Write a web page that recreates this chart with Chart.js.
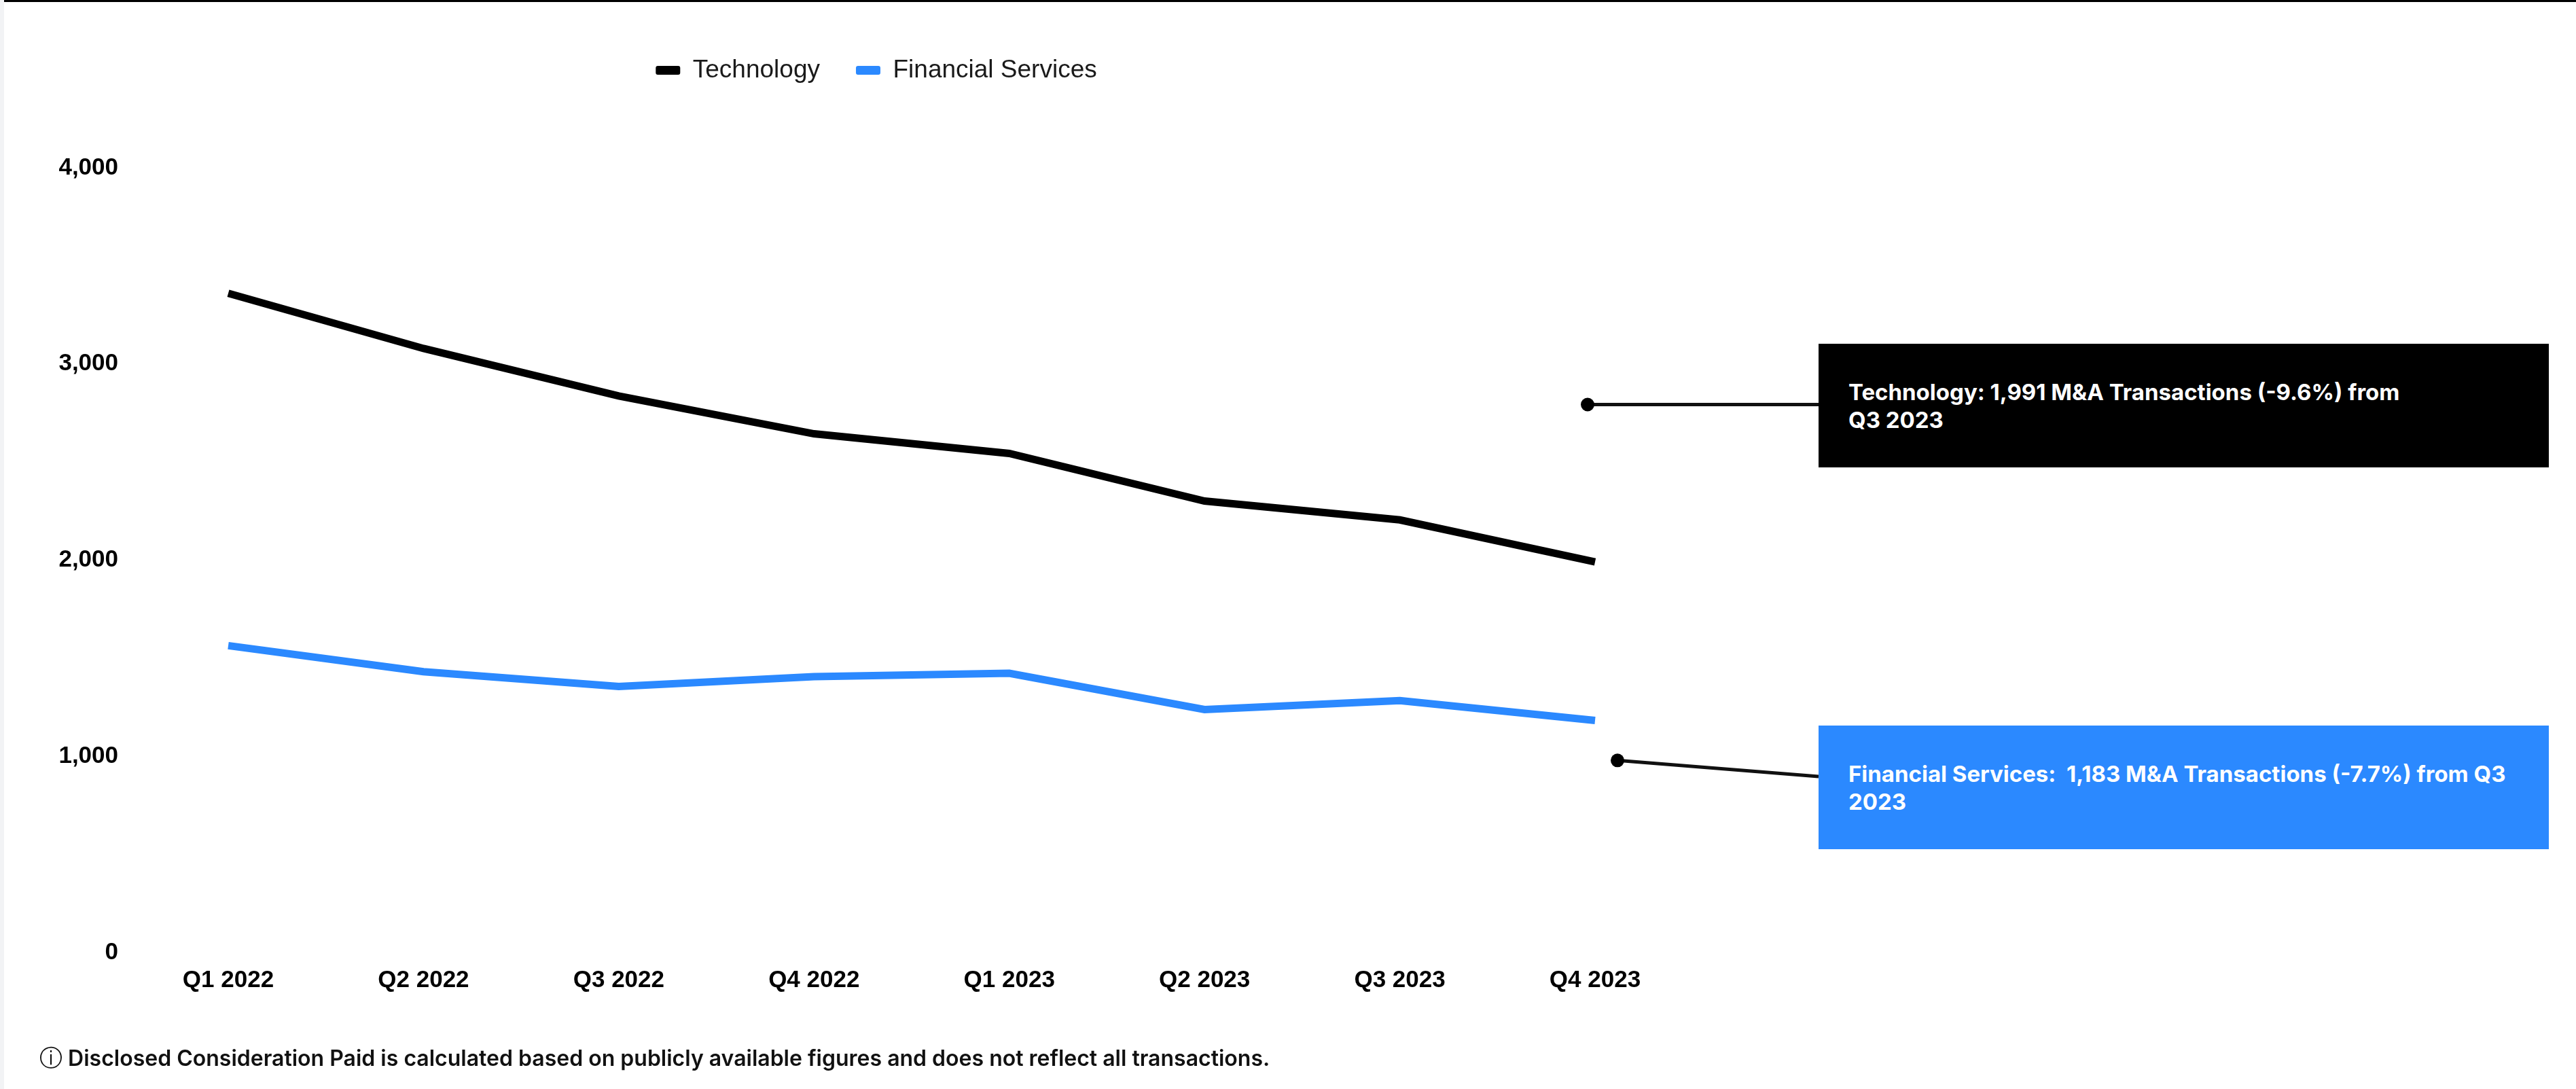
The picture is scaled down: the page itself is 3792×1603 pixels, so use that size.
<!DOCTYPE html>
<html>
<head>
<meta charset="utf-8">
<script src="https://cdn.jsdelivr.net/npm/chart.js@4.4.1/dist/chart.umd.min.js"></script>
<style>
  html, body { margin: 0; padding: 0; background: #ffffff; }
  #wrap { position: relative; width: 3792px; height: 1603px; overflow: hidden; background: #ffffff; }
  #chart { position: absolute; left: 0; top: 0; }
  #topline { position: absolute; left: 0; top: 0; width: 3792px; height: 3px; background: #000; z-index: 3; }
  #leftstrip { position: absolute; left: 0; top: 0; width: 6px; height: 1603px; background: #f2f3f5; z-index: 3; }
  .note { position: absolute; left: 2677px; width: 1075px; height: 182px; box-sizing: border-box;
          padding: 51px 0 0 44px; color: #ffffff; font-family: Inter, "Liberation Sans", sans-serif;
          font-weight: 700; font-size: 33px; line-height: 41px; white-space: pre; z-index: 2; }
  #noteTech { top: 506px; background: #000000; }
  #noteFin { top: 1068px; background: #2b89ff; }
  #footer { position: absolute; left: 58px; top: 1538px; font-family: Inter, "DejaVu Sans", sans-serif;
            font-weight: 600; font-size: 32px; line-height: 38px; color: #111; white-space: pre; }
  #footer .ic { font-family: "DejaVu Sans", sans-serif; font-weight: 400; font-size: 34px; }
</style>
</head>
<body>
<div id="wrap">
  <canvas id="chart" width="3792" height="1603"></canvas>
  <div id="topline"></div>
  <div id="leftstrip"></div>
  <div class="note" id="noteTech"></div>
  <div class="note" id="noteFin"></div>
  <div id="footer"></div>
</div>
<script>
// ---- data ----
const categories = ['Q1 2022', 'Q2 2022', 'Q3 2022', 'Q4 2022', 'Q1 2023', 'Q2 2023', 'Q3 2023', 'Q4 2023'];
const seriesNames = ['Technology', 'Financial Services'];
const technology = [3360, 3079, 2837, 2644, 2544, 2301, 2205, 1991];
const financialServices = [1564, 1431, 1356, 1406, 1423, 1238, 1284, 1183];
const yTickValues = [0, 1000, 2000, 3000, 4000];
const noteTexts = [
  'Technology: 1,991 M&A Transactions (-9.6%) from\nQ3 2023',
  'Financial Services:  1,183 M&A Transactions (-7.7%) from Q3\n2023'
];
const noteAnchorValues = [2793, 979];
const footerText = 'Disclosed Consideration Paid is calculated based on publicly available figures and does not reflect all transactions.';

// ---- styles ----
const colors = ['#000000', '#2b89ff'];
const TICK_FONT = { family: '"Liberation Sans", Arial, sans-serif', size: 35, weight: 'bold' };

document.getElementById('noteTech').textContent = noteTexts[0];
document.getElementById('noteFin').textContent = noteTexts[1];
document.getElementById('footer').innerHTML = '<span class="ic">\u24D8</span> ' + footerText;

const legendShift = {
  id: 'legendShift',
  afterLayout(chart) {
    const lg = chart.legend;
    if (!lg) return;
    const dx = 1290 - (lg.left + lg.right) / 2;
    lg.left += dx; lg.right += dx;
  }
};

const connectors = {
  id: 'connectors',
  afterDraw(chart) {
    const ctx = chart.ctx;
    const xs = chart.scales.x, ys = chart.scales.y;
    const lastX = xs.getPixelForValue(categories.length - 1);
    const anchors = [
      { x: lastX - 11, y: ys.getPixelForValue(noteAnchorValues[0]), ex: 2677, ey: ys.getPixelForValue(noteAnchorValues[0]) },
      { x: lastX + 33, y: ys.getPixelForValue(noteAnchorValues[1]), ex: 2677, ey: 1143 }
    ];
    ctx.save();
    anchors.forEach(a => {
      ctx.strokeStyle = '#111';
      ctx.lineWidth = 5;
      ctx.beginPath();
      ctx.moveTo(a.x, a.y);
      ctx.lineTo(a.ex, a.ey);
      ctx.stroke();
      ctx.fillStyle = '#000';
      ctx.beginPath();
      ctx.arc(a.x, a.y, 10, 0, Math.PI * 2);
      ctx.fill();
    });
    ctx.restore();
  }
};

new Chart(document.getElementById('chart'), {
  type: 'line',
  data: {
    labels: categories,
    datasets: [
      { label: seriesNames[0], data: technology, borderColor: colors[0], backgroundColor: colors[0],
        borderWidth: 11, pointRadius: 0, pointHoverRadius: 0, tension: 0, fill: false, borderCapStyle: 'butt' },
      { label: seriesNames[1], data: financialServices, borderColor: colors[1], backgroundColor: colors[1],
        borderWidth: 11, pointRadius: 0, pointHoverRadius: 0, tension: 0, fill: false, borderCapStyle: 'butt' }
    ]
  },
  options: {
    responsive: false,
    animation: false,
    devicePixelRatio: 1,
    layout: { padding: { top: 32, left: 0, right: 1444, bottom: 0 } },
    plugins: {
      legend: {
        display: true,
        position: 'top',
        labels: {
          font: { family: '"Liberation Sans", Arial, sans-serif', size: 37 },
          color: '#1a1a1a',
          boxWidth: 36,
          boxHeight: 13,
          padding: 53,
          useBorderRadius: true,
          borderRadius: 3,
          generateLabels(chart) {
            const items = Chart.defaults.plugins.legend.labels.generateLabels(chart);
            items.forEach((it, i) => { it.lineWidth = 0; it.fillStyle = colors[i]; it.strokeStyle = colors[i]; it.borderRadius = 3; });
            return items;
          }
        }
      },
      subtitle: {
        display: true,
        text: '',
        weight: 500,
        font: { size: 20, lineHeight: 1 },
        padding: { top: 0, bottom: 95 }
      },
      title: { display: false },
      tooltip: { enabled: false }
    },
    scales: {
      x: {
        type: 'category',
        offset: false,
        grid: { display: false, drawTicks: false },
        border: { display: false },
        ticks: { font: TICK_FONT, color: '#000', padding: 20, maxRotation: 0, autoSkip: false },
        afterFit(s) { s.height = 201; }
      },
      y: {
        min: 0,
        max: 4000,
        afterBuildTicks(s) { s.ticks = yTickValues.map(v => ({ value: v })); },
        grid: { display: false, drawTicks: false },
        border: { display: false },
        ticks: { font: TICK_FONT, color: '#000', padding: 162,
                 callback: v => v.toLocaleString('en-US') },
        afterFit(s) { s.width = 336; }
      }
    }
  },
  plugins: [legendShift, connectors]
});
</script>
</body>
</html>
